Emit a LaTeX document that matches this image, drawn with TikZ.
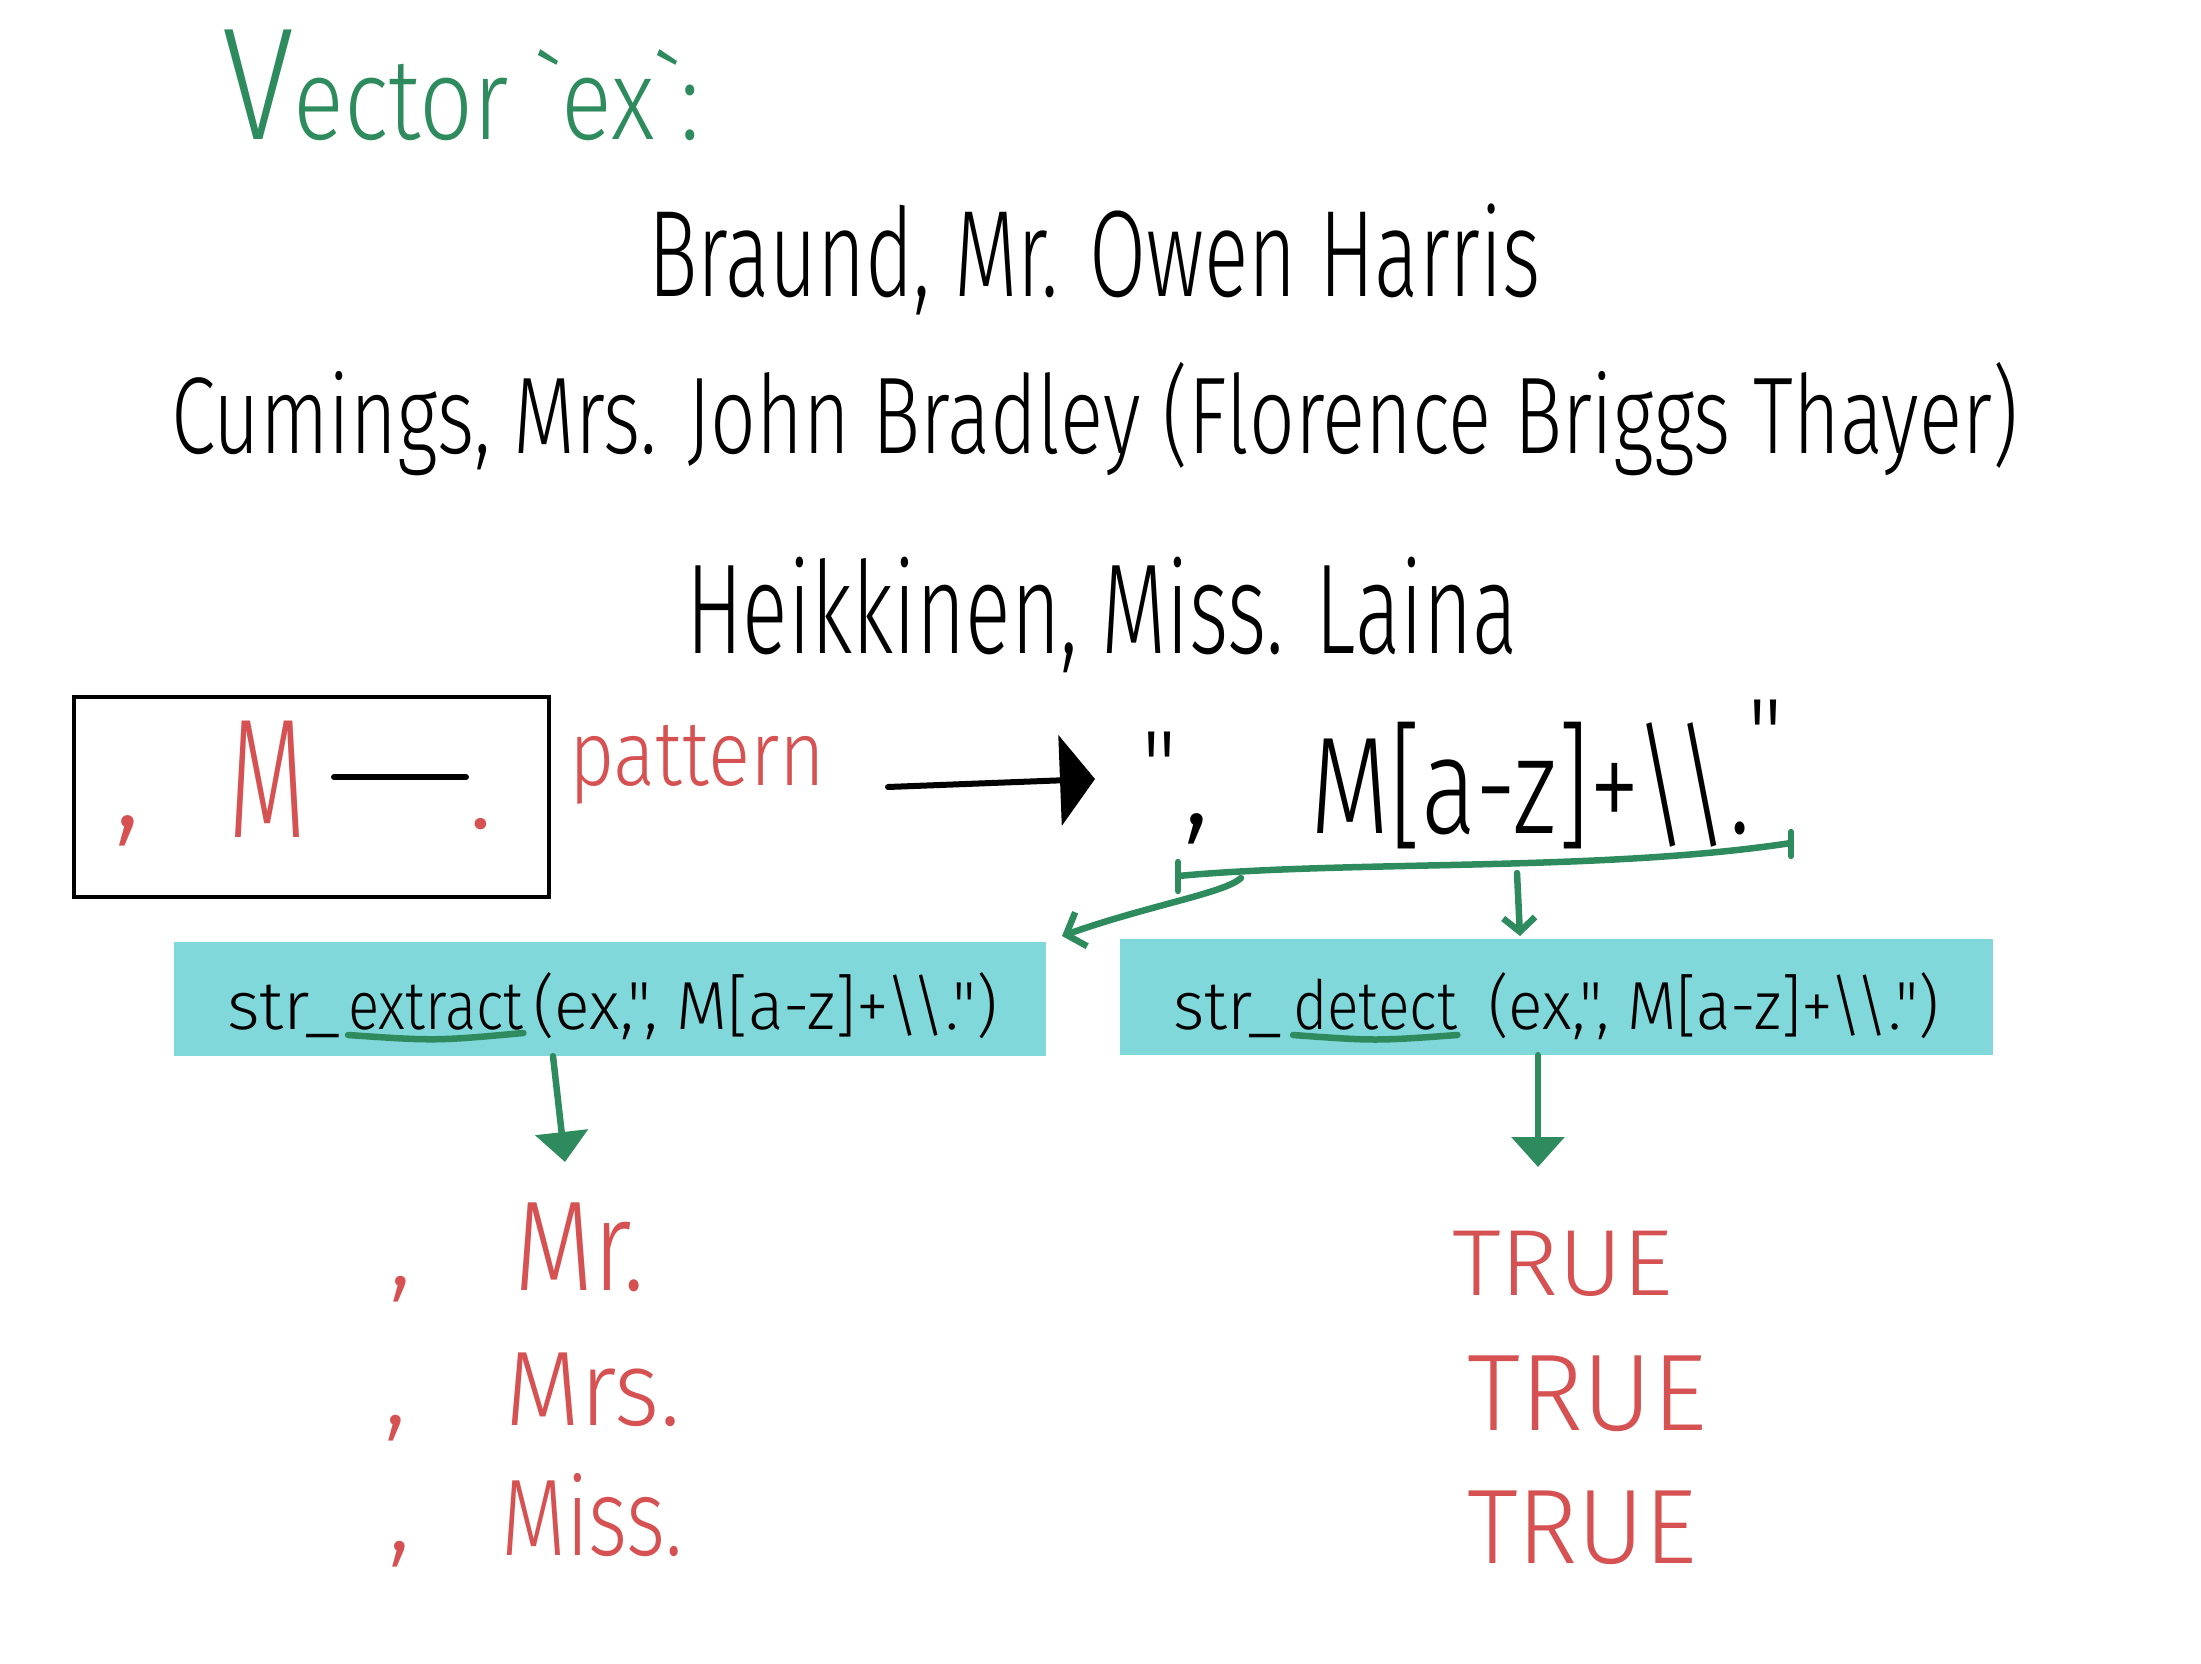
\documentclass[tikz,border=0pt]{standalone}
\usepackage{fontspec}
\setmainfont{Fira Sans}[UprightFont=* Light, Ligatures=TeXOff]
\usetikzlibrary{arrows.meta}
\definecolor{hwgreen}{HTML}{2E8B5E}
\definecolor{hwred}{HTML}{D65252}
\definecolor{hwcyan}{HTML}{80D8DA}
\newcommand{\hwsize}[1]{\fontsize{#1pt}{#1pt}\selectfont}
\newcommand{\fitw}[2]{\resizebox{#1pt}{\height}{#2}}
\begin{document}
\begin{tikzpicture}[x=1pt,y=-1pt,
  hw/.style={inner sep=0pt, anchor=base west},
  hwtop/.style={inner sep=0pt, anchor=north},
  gline/.style={draw=hwgreen, line width=6.5pt, line cap=round, line join=round},
  barb/.style={-{Straight Barb[length=16pt,width=36pt]}},
  bigtri/.style={-{Triangle[length=30pt,width=52pt]}},
  cyanbox/.style={fill=hwcyan, inner sep=0pt}
]
\useasboundingbox (0,0) rectangle (2201,1664);

% title
\node[hw, text=hwgreen] (title) at (222,140) {\hwsize{115}\fitw{478}{{\hwsize{160}V}ector {\char96}ex{\char96}:}};

% names
\node[hw] (n1) at (648,297) {\hwsize{123}\fitw{893}{Braund, Mr. Owen Harris}};
\node[hw] (n2) at (171,453) {\hwsize{109}\fitw{1847}{Cumings, Mrs. John Bradley (Florence Briggs Thayer)}};
\node[hw] (n3) at (686,653) {\hwsize{128}\fitw{832}{Heikkinen, Miss. Laina}};

% pattern box
\node[draw, line width=3.5pt, minimum width=475pt, minimum height=200pt, inner sep=0pt] (pbox) at (311.5,797) {};
\node[hwtop, text=hwred] (pcomma) at (128,815) {\hwsize{130},};
\node[hw, text=hwred] (pM) at (228,837) {\hwsize{170}\fitw{78}{M}};
\draw[line width=6pt, line cap=round] (334,777) -- (466,777);
\node[hwtop, text=hwred] (pdot) at (481,818) {\hwsize{120}.};
\node[hw, text=hwred] (pat) at (569,785) {\hwsize{92}\fitw{256}{pattern}};

% black arrow
\coordinate (ba1) at (888,787);
\coordinate (ba2) at (1095,779);
\draw[line width=6pt, line cap=round, -{Triangle[length=35pt,width=90pt]}] (ba1) -- (ba2);

% regex
\node[hwtop] (q1) at (1160,732) {\hwsize{100}"};
\node[hwtop] (rc) at (1197,813) {\hwsize{130},};
\node[hw] (rx) at (1310,833) {\hwsize{138}\fitw{440}{M[a-z]+\textbackslash\textbackslash.}};
\node[hwtop] (q2) at (1766,700) {\hwsize{100}"};

% bracket
\coordinate (bl) at (1178,876);
\coordinate (br) at (1791,843);
\draw[gline] (bl) .. controls (1350,860) and (1600,872) .. (br);
\draw[gline] (1178,862) -- (1178,891);
\draw[gline] (1791,832) -- (1791,856);

% cyan boxes
\node[cyanbox, minimum width=872pt, minimum height=114pt] (extbox) at (610,999) {};
\node[cyanbox, minimum width=873pt, minimum height=116pt] (detbox) at (1556.5,997) {};

% arrows from bracket
\coordinate (bk1) at (1241,878);
\coordinate (bk1t) at (1062,936);
\draw[gline, barb] (bk1) .. controls (1225,893) and (1150,905) .. (bk1t);
\coordinate (bk2) at (1517,873);
\coordinate (bk2t) at (1520,936);
\draw[gline, -{Straight Barb[length=14pt,width=32pt]}] (bk2) -- (bk2t);

% box texts
\node[hw] (e1) at (227,1029) {\hwsize{68}\fitw{114}{str\_}};
\node[hw] (e2) at (348,1029) {\hwsize{68}\fitw{175}{extract}};
\node[hw] (e3) at (533,1029) {\hwsize{68}\fitw{465}{(ex,", M[a-z]+\textbackslash\textbackslash.")}};
\draw[gline] ([yshift=-6pt]e2.base west) .. controls ([yshift=-12pt]e2.base) .. ([yshift=-4pt]e2.base east);

\node[hw] (d1) at (1173,1029) {\hwsize{68}\fitw{109}{str\_}};
\node[hw] (d2) at (1293,1029) {\hwsize{68}\fitw{164}{detect}};
\node[hw] (d3) at (1488,1029) {\hwsize{68}\fitw{451}{(ex,", M[a-z]+\textbackslash\textbackslash.")}};
\draw[gline] ([yshift=-6pt]d2.base west) .. controls ([yshift=-12pt]d2.base) .. ([yshift=-6pt]d2.base east);

% down arrows
\coordinate (ea) at ([xshift=-57pt]extbox.south);
\coordinate (eat) at (565,1162);
\draw[gline, bigtri] (ea) -- (eat);
\coordinate (da) at ([xshift=-18.5pt]detbox.south);
\coordinate (dat) at (1538,1167);
\draw[gline, bigtri] (da) -- (dat);

% results left
\node[hwtop, text=hwred] (c1) at (401,1276) {\hwsize{110},};
\node[hw, text=hwred] (r1) at (514,1290) {\hwsize{128}\fitw{131}{Mr.}};
\node[hwtop, text=hwred] (c2) at (396,1415) {\hwsize{110},};
\node[hw, text=hwred] (r2) at (505,1425) {\hwsize{106}\fitw{175}{Mrs.}};
\node[hwtop, text=hwred] (c3) at (400,1541) {\hwsize{110},};
\node[hw, text=hwred] (r3) at (501,1555) {\hwsize{109}\fitw{182}{Miss.}};

% results right
\node[hw, text=hwred] (t1) at (1452,1295) {\hwsize{94}\fitw{221}{TRUE}};
\node[hw, text=hwred] (t2) at (1467,1430) {\hwsize{109}\fitw{240}{TRUE}};
\node[hw, text=hwred] (t3) at (1467,1563) {\hwsize{106}\fitw{230}{TRUE}};
\end{tikzpicture}
\end{document}
